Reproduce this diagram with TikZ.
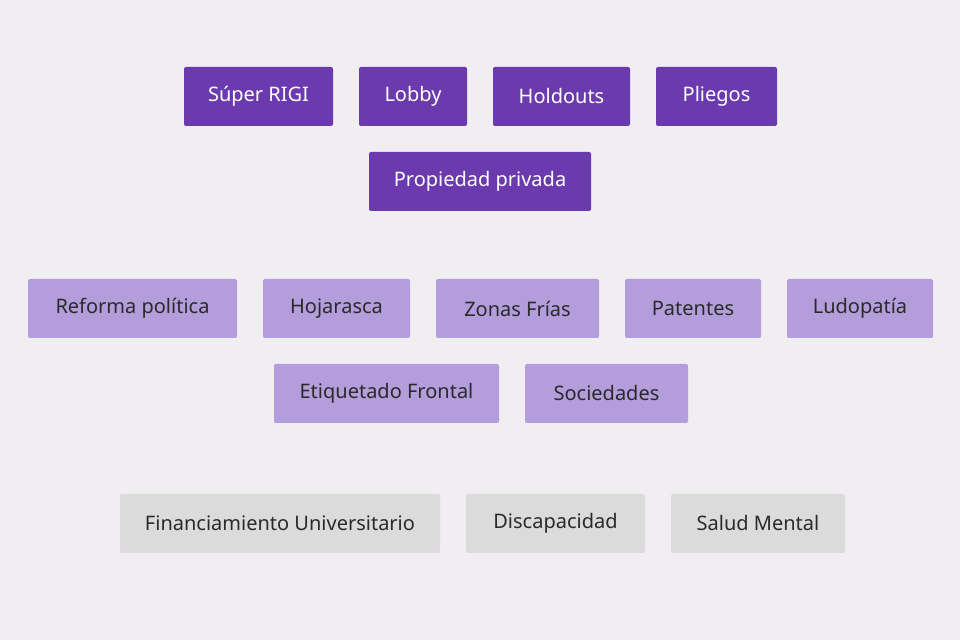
\documentclass[tikz,border=0pt]{standalone}
\usepackage{fontspec}
\setmainfont{Noto Sans}
\definecolor{bg}{HTML}{F0EEF0}
\definecolor{dk}{HTML}{6A3AAE}
\definecolor{lt}{HTML}{B39DDB}
\definecolor{gr}{HTML}{DCDBDC}
\definecolor{tx}{HTML}{2A2A2A}
\tikzset{
 box/.style={rectangle, rounded corners=1pt, inner sep=0pt, minimum height=29.5pt, font=\fontsize{10}{12}\selectfont},
 dkbox/.style={box, fill=dk, text=white},
 ltbox/.style={box, fill=lt, text=tx},
 grbox/.style={box, fill=gr, text=tx}
}
\newcommand{\bx}[6]{\node[#1, minimum width={(#4-#3)*0.5pt}] (#2) at ({(#3+#4)/2},{#5}) {#6};}
\begin{document}
\begin{tikzpicture}[x=0.5pt,y=-0.5pt]
\fill[bg] (0,0) rectangle (960,640);
\useasboundingbox (0,0) rectangle (960,640);
\bx{dkbox}{a1}{184}{333}{96.5}{Súper RIGI}
\bx{dkbox}{a2}{359}{467}{96.5}{Lobby}
\bx{dkbox}{a3}{493}{630}{96.5}{Holdouts}
\bx{dkbox}{a4}{656}{777}{96.5}{Pliegos}
\bx{dkbox}{a5}{369}{591}{181.5}{Propiedad privada}
\bx{ltbox}{b1}{28}{237}{308.5}{Reforma política}
\bx{ltbox}{b2}{263}{410}{308.5}{Hojarasca}
\bx{ltbox}{b3}{436}{599}{308.5}{Zonas Frías}
\bx{ltbox}{b4}{625}{761}{308.5}{Patentes}
\bx{ltbox}{b5}{787}{933}{308.5}{Ludopatía}
\bx{ltbox}{b6}{274}{499}{393.5}{Etiquetado Frontal}
\bx{ltbox}{b7}{525}{688}{393.5}{Sociedades}
\bx{grbox}{c1}{120}{440}{523.5}{Financiamiento Universitario}
\bx{grbox}{c2}{466}{645}{523.5}{Discapacidad}
\bx{grbox}{c3}{671}{845}{523.5}{Salud Mental}
\end{tikzpicture}
\end{document}
